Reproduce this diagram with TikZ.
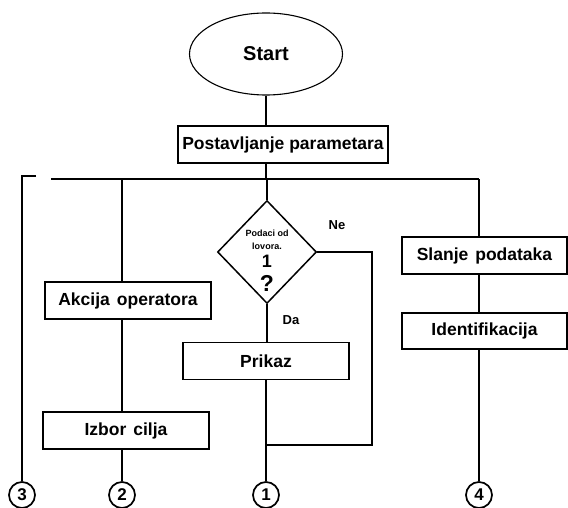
\documentclass[tikz,border=0pt]{standalone}
\usepackage{fontspec}
\setmainfont{Liberation Sans}
\usetikzlibrary{shapes.geometric}

\begin{document}
\begin{tikzpicture}[x=1pt, y=-1pt, line width=1.5pt,
    kutija/.style={draw, rectangle, inner sep=0pt, minimum width=166pt, minimum height=37pt,
                   font=\bfseries\fontsize{17.5}{20}\selectfont},
    krug/.style={draw, circle, line width=1.7pt, minimum size=26pt, inner sep=0pt,
                 font=\bfseries\fontsize{17}{18}\selectfont},
    oznaka/.style={inner sep=0pt, font=\bfseries\fontsize{13}{15}\selectfont}]

    \useasboundingbox (0,0) rectangle (568,508);

    % start
    \node[draw, ellipse, line width=1.1pt, minimum width=153pt, minimum height=82pt,
          font=\bfseries\fontsize{20}{22}\selectfont] (start) at (266,54) {Start};

    % parametri
    \node[kutija, minimum width=210pt] (param) at (283,144.5) {Postavljanje parametara};
    \draw (start.south) -- (start.south |- param.north);

    % zajednicka linija
    \coordinate (busL) at (51,179);
    \coordinate (busR) at (479,179);
    \draw (busL) -- (busR);
    \draw (param.south -| start.south) -- (start.south |- busL);

    % odluka
    \node[draw, diamond, inner sep=0pt, shape aspect=1, minimum width=99pt, minimum height=103pt] (odluka) at (267,252) {};
    \node[inner sep=0pt, font=\bfseries\fontsize{9}{10}\selectfont] (red1) at (267,233) {Podaci od};
    \node[inner sep=0pt, font=\bfseries\fontsize{9}{10}\selectfont] (red2) at (267,246) {lovora.};
    \node[inner sep=0pt, font=\bfseries\fontsize{18}{20}\selectfont] (broj) at (267,261) {1};
    \node[inner sep=0pt, font=\bfseries\fontsize{23}{24}\selectfont] (upit) at (267,283) {?};
    \draw (odluka.north |- busL) -- (odluka.north);
    \node[oznaka] (ne) at (337,225) {Ne};
    \node[oznaka] (da) at (291,320) {Da};

    % grana 1
    \node[kutija] (prikaz) at (266,361) {Prikaz};
    \node[krug] (k1) at (266,495) {1};
    \coordinate (petlja) at (372,445);
    \draw (odluka.south) -- (odluka.south |- prikaz.north);
    \draw (odluka.east) -| (petlja) -- (petlja -| prikaz.south);
    \draw (prikaz.south) -- (k1.north);

    % grana 3
    \node[krug] (k3) at (22,495) {3};
    \coordinate (ugao) at (36,176);
    \draw (ugao) -- (ugao -| k3) -- (k3.north);

    % grana 2
    \node[kutija] (akcija) at (128,300.5) {Akcija\hspace{0.4em}operatora};
    \node[kutija] (izbor) at (126,430.5) {Izbor\hspace{0.4em}cilja};
    \node[krug] (k2) at (122,495) {2};
    \draw (k2 |- busL) -- (k2 |- akcija.north);
    \draw (k2 |- akcija.south) -- (k2 |- izbor.north);
    \draw (k2 |- izbor.south) -- (k2.north);

    % grana 4
    \node[kutija, minimum width=165pt] (slanje) at (484.5,255.5) {Slanje\hspace{0.4em}podataka};
    \node[kutija, minimum width=165pt, minimum height=36pt] (ident) at (484.5,331) {Identifikacija};
    \node[krug] (k4) at (479,495) {4};
    \draw (busR) -- (busR |- slanje.north);
    \draw (busR |- slanje.south) -- (busR |- ident.north);
    \draw (busR |- ident.south) -- (k4.north);

\end{tikzpicture}
\end{document}
